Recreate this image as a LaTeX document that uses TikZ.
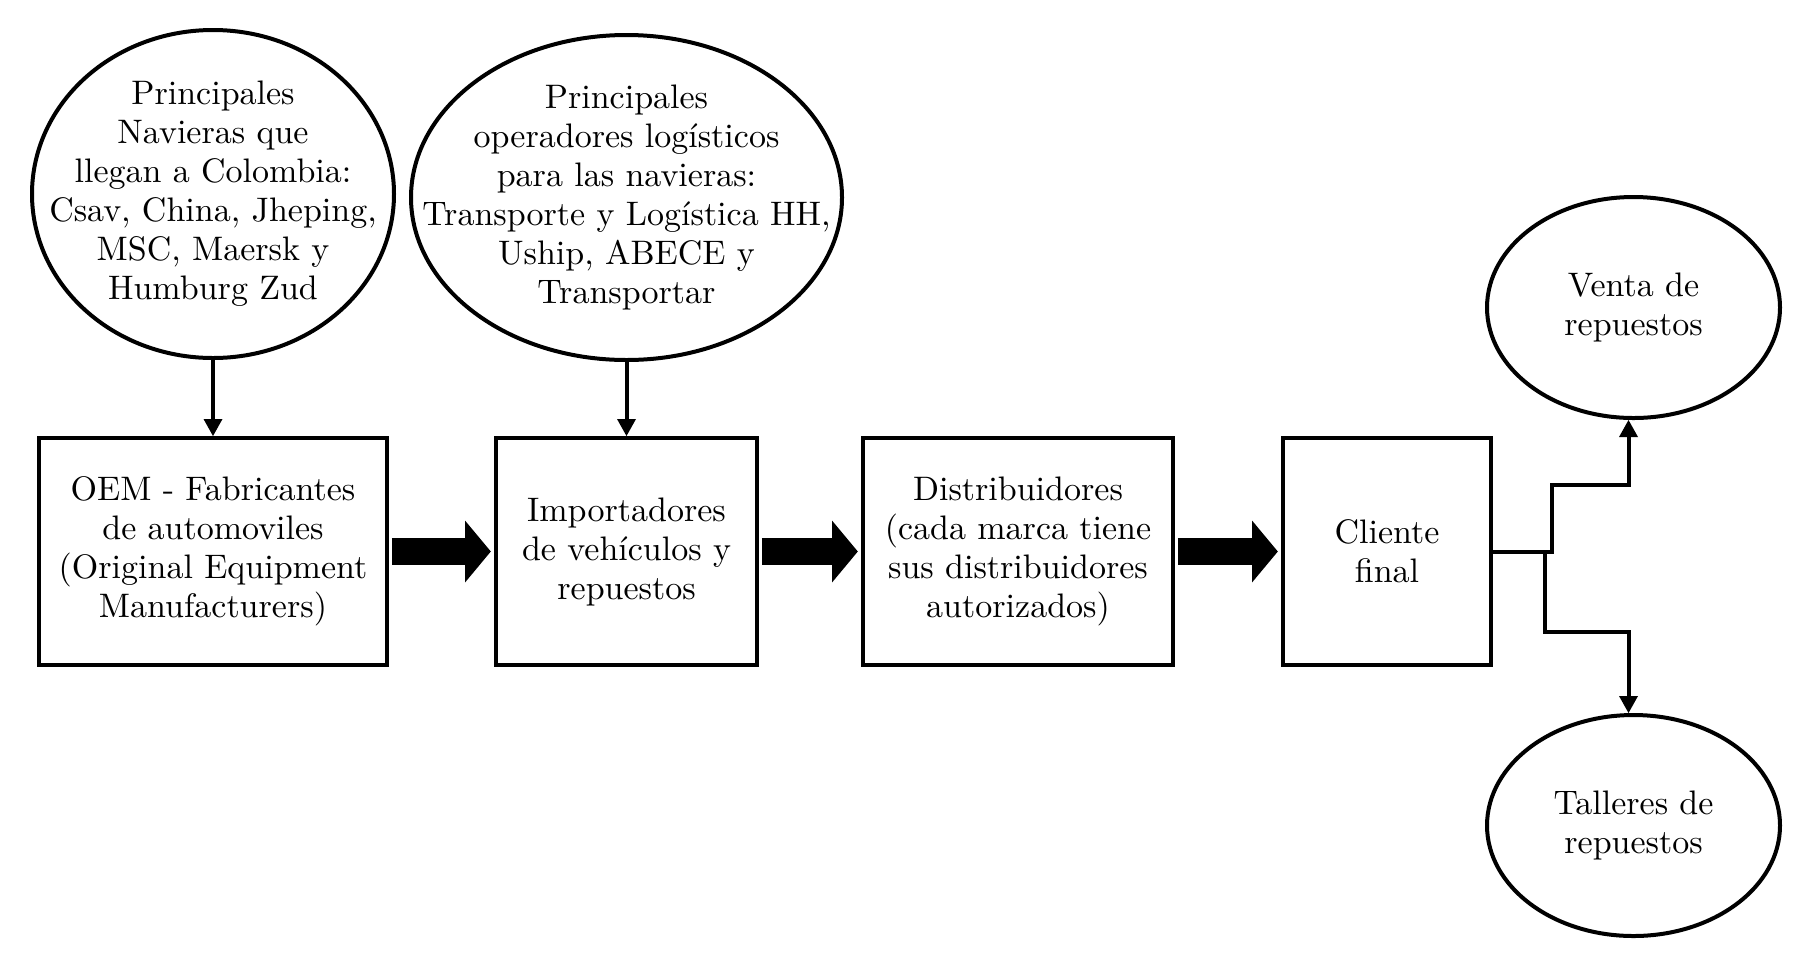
\documentclass[tikz,border=0pt]{standalone}
\usepackage{fontspec}
\setmainfont{lmroman10-regular.otf}
\usepackage{tikz}
\usetikzlibrary{positioning,arrows.meta,shapes.geometric}
\tikzset{
  line/.style={-{Triangle[length=8.5pt, width=9.5pt, line width=0pt]}, line width=2pt},
  fatline/.style={-{Triangle[length=12.9pt, width=31pt, line width=0pt]}, line width=13.3pt, shorten <=1.4pt, shorten >=1.6pt},
  box/.style={draw, line width=2pt, align=center, inner sep=3pt, minimum height=113.5pt},
  oval/.style={draw, ellipse, line width=2pt, align=center, inner sep=0pt},
  ovaltext/.style={align=center, inner sep=0pt}
}

\begin{document}
\begin{tikzpicture}[x=0.5pt, y=-0.5pt, node distance=52pt, font=\fontsize{17pt}{19.5pt}\selectfont]
  \useasboundingbox (0,0) rectangle (1808,965);

  % cadena principal
  \node[box, minimum width=174pt] (oem) at (213,551.5) {OEM - Fabricantes\\de automoviles\\(Original Equipment\\Manufacturers)};
  \node[box, minimum width=130.5pt, right=52.5pt of oem] (imp) {Importadores\\de vehículos y\\repuestos};
  \node[box, minimum width=155pt, right=51pt of imp] (dist) {Distribuidores\\(cada marca tiene\\sus distribuidores\\autorizados)};
  \node[box, minimum width=104pt, right=53pt of dist] (cli) {Cliente\\final};

  % navieras y operadores
  \node[oval, minimum width=181pt, minimum height=164pt, above=38pt of oem] (nav) {};
  \node[ovaltext] (navtext) at (nav) {Principales\\Navieras que\\llegan a Colombia:\\Csav, China, Jheping,\\MSC, Maersk y\\Humburg Zud};
  \node[oval, minimum width=215.5pt, minimum height=162.5pt, above=37pt of imp] (oper) {};
  \node[ovaltext] (opertext) at (oper) {Principales\\operadores logísticos\\para las navieras:\\Transporte y Logística HH,\\Uship, ABECE y\\Transportar};

  % repuestos
  \node[oval, minimum width=146.5pt, minimum height=110.5pt] (venta) at (1633.5,307.5) {Venta de\\repuestos};
  \node[oval, minimum width=146.5pt, minimum height=110.5pt] (tall) at (1633.5,825.5) {Talleres de\\repuestos};

  \coordinate (up) at (1552,485);
  \coordinate (down) at (1545,632);

  \draw[line] (nav) -- (oem);
  \draw[line] (oper) -- (imp);
  \draw[fatline] (oem) -- (imp);
  \draw[fatline] (imp) -- (dist);
  \draw[fatline] (dist) -- (cli);
  \draw[line] (cli.east) -| (up) -| ([xshift=-2.5pt]venta.south);
  \draw[line] (cli.east) -| (down) -| ([xshift=-2.5pt]tall.north);
\end{tikzpicture}
\end{document}
